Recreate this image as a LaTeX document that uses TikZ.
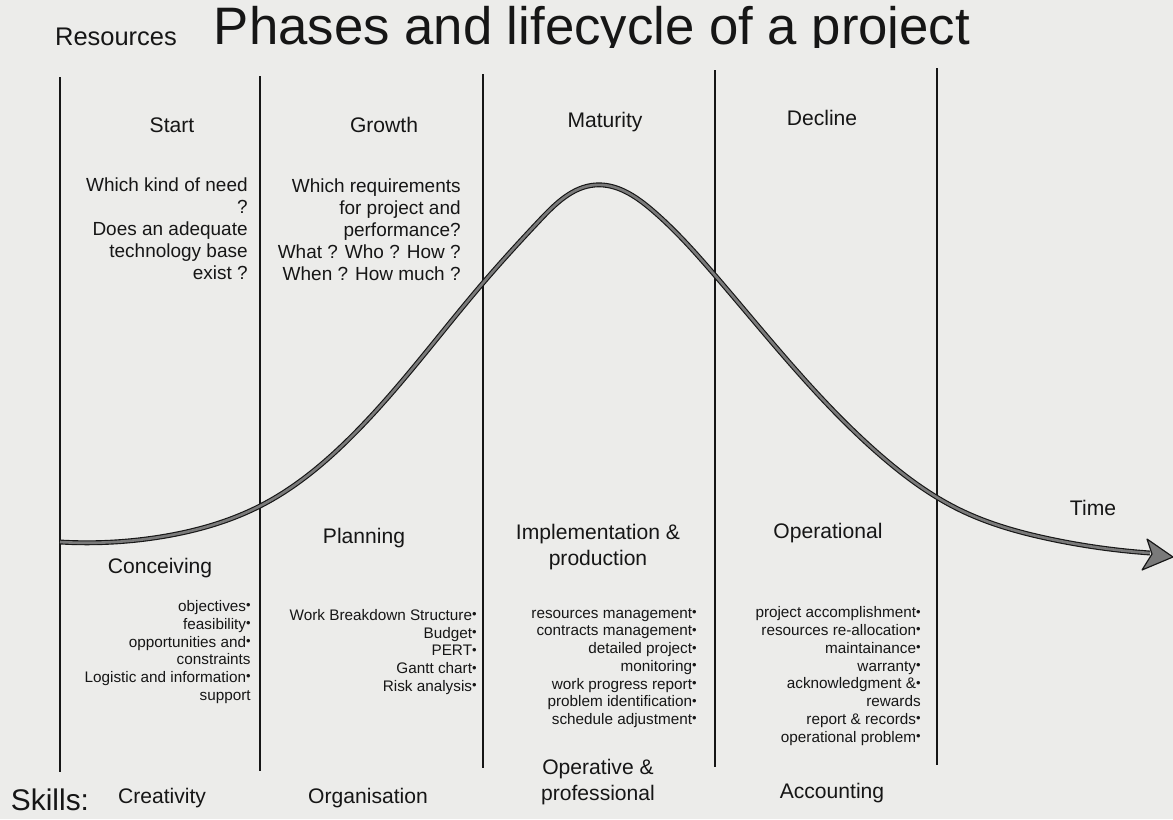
\documentclass[tikz,border=0pt]{standalone}
\usepackage{fontspec}
\setmainfont{Liberation Sans}
\usepackage{tikz}
\usetikzlibrary{arrows.meta, hobby}
\definecolor{paper}{RGB}{236,236,234}
\definecolor{ink}{RGB}{22,22,22}
\definecolor{curvefill}{RGB}{122,122,122}
\newcommand{\bul}{\raisebox{0.2ex}{\scalebox{0.85}{•}}}
\tikzset{
  phase/.style={font=\fontsize{12}{14.5}\selectfont, text=ink, align=center},
  question/.style={font=\fontsize{10.8}{12.5}\selectfont, align=right, text=ink, inner sep=0pt},
  task/.style={font=\fontsize{8.7}{10.1}\selectfont, align=right, text=ink, inner sep=0pt},
  divider/.style={line width=0.8pt, draw=ink},
  lifecurve/.style={line width=0.65pt, draw=ink, double=curvefill, double distance=1.5pt}
}

\begin{document}
\begin{tikzpicture}[x=0.2mm, y=-0.2mm]
    \fill[paper] (0,0) rectangle (1173,819);
    \useasboundingbox (0,0) rectangle (1173,819);

    \node[font=\fontsize{14.5}{17}\selectfont, text=ink] (resources) at (116,37) {Resources};
    \begin{scope}
      \clip (200,0) rectangle (990,47);
      \node[font=\fontsize{30}{36}\selectfont, text=ink, anchor=base] (title) at (592,44) {Phases and lifecycle of a project};
    \end{scope}

    % phase dividers
    \draw[divider] (60,77) -- (60,772);
    \draw[divider] (260,76) -- (260,771);
    \draw[divider] (483,74) -- (483,768);
    \draw[divider] (715,70) -- (715,767);
    \draw[divider] (937,68) -- (937,765);

    % life cycle curve
    \coordinate (born) at (60,542);
    \coordinate (fade) at (1150,553);
    \draw[lifecurve, use Hobby shortcut] (born) .. (160,537) .. (262,505) .. (350,438) .. (483,283) .. (540,220) .. (595,185) .. (652,210) .. (713,273) .. (880,455) .. (960,510) .. (1050,539) .. (fade);
    \coordinate (tip) at (1173,557);
    \filldraw[fill=curvefill, draw=ink, line width=0.65pt, line join=round] (1147,539) -- (tip) -- (1142,570) -- (1152,554) -- cycle;

    \node[phase] (start) at (172,125) {Start};
    \node[phase] (growth) at (384,125) {Growth};
    \node[phase] (maturity) at (605,122) {Maturity};
    \node[phase] (decline) at (822,118) {Decline};

    \node[question, anchor=east] (needq) at (248,229) {Which kind of need\\?\\Does an adequate\\technology base\\exist ?};
    \node[question, anchor=east] (reqq) at (461,230) {Which requirements\\for project and\\performance?\\What ? Who ? How ?\\When ? How much ?};

    \node[phase] (conceiving) at (160,568) {Conceiving};
    \node[phase] (planning) at (364,538) {Planning};
    \node[phase] (implementation) at (598,547) {Implementation \&\\production};
    \node[phase] (operational) at (828,533) {Operational};
    \node[phase] (time) at (1093,508) {Time};

    \node[task, anchor=east] (conceivetasks) at (251,652) {objectives\bul\\feasibility\bul\\opportunities and\bul\\constraints\\Logistic and information\bul\\support};
    \node[task, anchor=east] (plantasks) at (477,652) {Work Breakdown Structure\bul\\Budget\bul\\PERT\bul\\Gantt chart\bul\\Risk analysis\bul};
    \node[task, anchor=east] (implementtasks) at (697,668) {resources management\bul\\contracts management\bul\\detailed project\bul\\monitoring\bul\\work progress report\bul\\problem identification\bul\\schedule adjustment\bul};
    \node[task, anchor=east] (operatetasks) at (921,676) {project accomplishment\bul\\resources re-allocation\bul\\maintainance\bul\\warranty\bul\\acknowledgment \&\bul\\rewards\\report \& records\bul\\operational problem\bul};

    \node[font=\fontsize{17}{20}\selectfont, text=ink] (skills) at (50,800) {Skills:};
    \node[phase] (creativity) at (162,798) {Creativity};
    \node[phase] (organisation) at (368,798) {Organisation};
    \node[phase] (operative) at (598,782) {Operative \&\\professional};
    \node[phase] (accounting) at (832,793) {Accounting};
  \end{tikzpicture}
\end{document}
